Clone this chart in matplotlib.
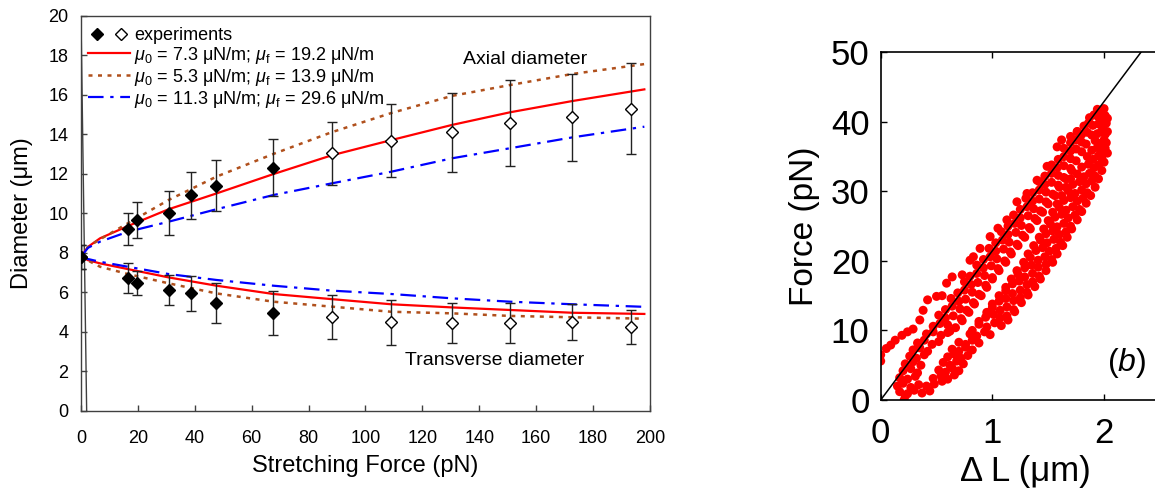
import matplotlib
matplotlib.use("Agg")
import matplotlib.pyplot as plt
from matplotlib.legend_handler import HandlerTuple
from matplotlib.lines import Line2D

plt.rcParams["font.family"] = ["Liberation Sans", "DejaVu Sans"]
plt.rcParams["mathtext.fontset"] = "custom"
plt.rcParams["mathtext.rm"] = "Liberation Sans"
plt.rcParams["mathtext.it"] = "Liberation Sans:italic"

# ---- panel (a): diameter vs stretching force ----
force_filled = [0, 16.5, 19.7, 30.8, 38.7, 47.6, 67.6]
axial_filled = [7.8, 9.2, 9.65, 10.0, 10.9, 11.4, 12.3]
axial_filled_err = [0.6, 0.8, 0.9, 1.1, 1.2, 1.3, 1.45]
trans_filled = [7.8, 6.7, 6.45, 6.1, 5.95, 5.45, 4.95]
trans_filled_err = [0.6, 0.76, 0.6, 0.76, 0.88, 1.0, 1.1]

force_open = [88.1, 109, 130.4, 150.8, 172.7, 193.2]
axial_open = [13.03, 13.66, 14.11, 14.57, 14.85, 15.29]
axial_open_err = [1.6, 1.85, 2.0, 2.2, 2.2, 2.3]
trans_open = [4.73, 4.47, 4.44, 4.44, 4.49, 4.22]
trans_open_err = [1.12, 1.12, 1.03, 1.03, 0.93, 0.86]

model_force = [0, 2.5, 6.7, 16.5, 30.8, 47.6, 67.6, 88.1, 109, 130.4, 150.8, 172.7, 198]
red_axial = [7.8, 8.3, 8.73, 9.35, 10.2, 11.0, 11.98, 12.93, 13.7, 14.47, 15.11, 15.68, 16.27]
red_trans = [7.8, 7.62, 7.46, 7.17, 6.75, 6.33, 5.91, 5.65, 5.39, 5.23, 5.10, 4.96, 4.9]
brown_axial = [7.8, 8.3, 8.68, 9.49, 10.67, 11.85, 13.0, 14.1, 15.07, 15.94, 16.49, 17.05, 17.55]
brown_trans = [7.8, 7.6, 7.29, 6.92, 6.45, 5.94, 5.52, 5.27, 5.01, 4.93, 4.80, 4.73, 4.66]
blue_axial = [7.8, 8.25, 8.56, 9.06, 9.57, 10.2, 10.92, 11.51, 12.1, 12.78, 13.29, 13.84, 14.38]
blue_trans = [7.8, 7.68, 7.54, 7.29, 6.92, 6.62, 6.33, 6.08, 5.91, 5.69, 5.52, 5.39, 5.26]

stray_x = [0, 2.0]
stray_y = [20, 0]

labels = [
    "experiments",
    r"$\mu_0$ = 7.3 μN/m; $\mu_{\rm f}$ = 19.2 μN/m",
    r"$\mu_0$ = 5.3 μN/m; $\mu_{\rm f}$ = 13.9 μN/m",
    r"$\mu_0$ = 11.3 μN/m; $\mu_{\rm f}$ = 29.6 μN/m",
]

# ---- panel (b): force vs extension (hysteresis loop) ----
hyst_points = [
    # low-force region
    (0.21, 0.0), (0.22, 0.6),
    (0.17, 1.2), (0.24, 0.9), (0.30, 1.4), (0.37, 1.0), (0.44, 1.3),
    (0.15, 2.0), (0.20, 2.4), (0.27, 1.8), (0.34, 2.2), (0.41, 2.0), (0.48, 2.3), (0.55, 2.7),
    (0.17, 3.2), (0.24, 3.0), (0.31, 3.4), (0.47, 3.1), (0.54, 3.5), (0.60, 3.0), (0.66, 3.6),
    (0.20, 4.2), (0.27, 4.5), (0.33, 3.9), (0.52, 4.3), (0.58, 4.0), (0.64, 4.6), (0.70, 4.2),
    (0.22, 5.2), (0.29, 5.5), (0.36, 5.0), (0.56, 5.4), (0.62, 5.0), (0.68, 5.6), (0.74, 5.2),
    (0.26, 6.3), (0.32, 6.0), (0.39, 6.5), (0.60, 6.2), (0.66, 6.6), (0.72, 6.0), (0.78, 6.4),
    (0.29, 7.2), (0.35, 7.5), (0.42, 7.0), (0.64, 7.3), (0.70, 7.0), (0.76, 7.6), (0.82, 7.2),
    (0.33, 8.2), (0.39, 8.6), (0.46, 8.0), (0.52, 8.4), (0.70, 8.3), (0.76, 8.0), (0.82, 8.6), (0.88, 8.2),
    (0.41, 9.5), (0.47, 9.8), (0.54, 9.3), (0.60, 9.7), (0.80, 9.5), (0.86, 9.2), (0.93, 9.8), (0.98, 9.4),
    # two branches
    (0.47, 10.6), (0.53, 11.0), (0.60, 10.8), (0.67, 10.4), (0.88, 10.9), (0.95, 10.5), (1.02, 11.1), (1.08, 10.7),
    (0.52, 12.2), (0.58, 11.8), (0.65, 12.1), (0.72, 11.7), (0.94, 11.9), (1.01, 12.3), (1.07, 11.8), (1.13, 12.1),
    (0.58, 13.0), (0.64, 13.5), (0.71, 13.1), (0.77, 12.9), (1.00, 13.3), (1.07, 12.9), (1.13, 13.4), (1.19, 13.0),
    (0.63, 14.6), (0.70, 14.2), (0.76, 14.5), (0.83, 14.0), (1.06, 14.2), (1.12, 14.6), (1.19, 14.3), (1.25, 14.7),
    (0.69, 15.4), (0.75, 15.8), (0.82, 15.5), (0.88, 15.2), (1.12, 15.7), (1.18, 15.3), (1.25, 15.8), (1.31, 15.5),
    (0.75, 17.0), (0.81, 16.6), (0.87, 16.9), (0.94, 16.5), (1.18, 16.7), (1.24, 17.1), (1.31, 16.6), (1.36, 17.0),
    (0.80, 17.8), (0.86, 18.2), (0.93, 17.9), (1.00, 17.6), (1.23, 18.1), (1.29, 17.7), (1.36, 18.2), (1.42, 17.8),
    (0.86, 19.4), (0.92, 19.0), (0.99, 19.3), (1.05, 18.9), (1.29, 19.0), (1.35, 19.4), (1.41, 19.1), (1.48, 19.5),
    (0.92, 20.2), (0.98, 20.6), (1.04, 20.3), (1.11, 20.0), (1.34, 20.5), (1.41, 20.1), (1.47, 20.6), (1.53, 20.2),
    (0.97, 21.8), (1.03, 21.4), (1.10, 21.7), (1.16, 21.3), (1.39, 21.5), (1.45, 21.9), (1.51, 21.4), (1.57, 21.8),
    (1.03, 22.6), (1.09, 23.0), (1.15, 22.7), (1.22, 22.4), (1.43, 23.0), (1.49, 22.6), (1.55, 23.1), (1.61, 22.7),
    (1.08, 24.2), (1.14, 23.8), (1.21, 24.1), (1.27, 23.7), (1.48, 23.9), (1.54, 24.3), (1.60, 23.8), (1.66, 24.2),
    (1.14, 25.0), (1.20, 25.4), (1.26, 25.1), (1.33, 24.8), (1.52, 25.3), (1.58, 24.9), (1.64, 25.4), (1.70, 25.0),
    (1.19, 26.6), (1.25, 26.2), (1.32, 26.5), (1.38, 26.1), (1.56, 26.3), (1.62, 26.7), (1.68, 26.2), (1.74, 26.6),
    (1.25, 27.4), (1.31, 27.8), (1.37, 27.5), (1.43, 27.2), (1.60, 27.7), (1.66, 27.3), (1.72, 27.8), (1.78, 27.4),
    (1.30, 29.0), (1.36, 28.6), (1.42, 28.9), (1.48, 28.5), (1.64, 28.7), (1.70, 29.1), (1.76, 28.6), (1.81, 29.0),
    (1.36, 29.8), (1.42, 30.2), (1.48, 29.9), (1.54, 29.6), (1.68, 30.1), (1.74, 29.7), (1.80, 30.2), (1.85, 29.8),
    (1.42, 31.4), (1.47, 31.0), (1.53, 31.3), (1.59, 30.9), (1.72, 31.0), (1.78, 31.4), (1.84, 31.1), (1.89, 31.5),
    (1.47, 32.2), (1.53, 32.6), (1.59, 32.3), (1.64, 32.0), (1.76, 32.5), (1.82, 32.1), (1.87, 32.6), (1.92, 32.2),
    (1.53, 33.8), (1.58, 33.4), (1.64, 33.7), (1.70, 33.3), (1.80, 33.5), (1.86, 33.9), (1.91, 33.4), (1.95, 33.8),
    (1.59, 34.6), (1.64, 35.0), (1.70, 34.7), (1.75, 34.4), (1.85, 35.0), (1.90, 34.6), (1.95, 35.1), (1.98, 34.7),
    (1.64, 36.2), (1.70, 35.8), (1.75, 36.1), (1.80, 35.7), (1.89, 35.9), (1.94, 36.3), (1.98, 35.8), (2.01, 36.2),
    (1.70, 37.0), (1.75, 37.4), (1.80, 37.1), (1.84, 36.8), (1.92, 37.3), (1.96, 36.9), (2.00, 37.4), (2.02, 37.0),
    (1.76, 38.6), (1.80, 38.2), (1.85, 38.5), (1.89, 38.1), (1.94, 38.3), (1.98, 38.7), (2.01, 38.2), (2.03, 38.6),
    (1.82, 39.4), (1.86, 39.8), (1.90, 39.5), (1.95, 39.7), (1.99, 39.3), (2.02, 39.8),
    (1.87, 40.6), (1.91, 41.0), (1.95, 40.7), (1.98, 40.4), (2.01, 40.9), (2.03, 40.5),
    (1.94, 41.8), (1.98, 41.4), (2.00, 41.9),
    # sparse outer points (upper-left of the loop)
    (0.00, 6.5), (0.00, 5.6), (0.05, 7.4), (0.09, 7.9), (0.13, 8.6), (0.19, 9.3), (0.24, 9.8),
    (0.29, 10.2), (0.35, 11.5), (0.38, 12.9), (0.42, 14.4), (0.50, 14.9), (0.55, 15.0), (0.59, 16.8),
    (0.64, 17.7), (0.73, 18.0), (0.80, 20.1), (0.83, 20.6), (0.89, 21.8), (0.98, 23.5), (1.05, 24.7),
    (1.13, 25.9), (1.22, 28.5), (1.31, 29.7), (1.40, 31.6), (1.49, 33.6), (1.58, 36.4), (1.62, 37.4),
    (1.70, 37.9), (1.76, 38.6),
]
hyst_edge_points = [
    # outer edge of the lower branch
    (1.14, 11.5), (1.20, 12.7), (1.26, 14.0), (1.32, 15.1), (1.38, 16.3), (1.43, 17.4), (1.48, 18.6),
    (1.54, 19.8), (1.58, 21.0), (1.63, 22.2), (1.67, 23.4), (1.71, 24.6), (1.76, 25.9), (1.80, 27.1),
    (1.84, 28.3), (1.88, 29.4), (1.92, 30.6), (1.95, 31.8), (1.98, 33.0), (2.00, 34.2), (2.03, 35.5),
    # inner edge of the lower branch
    (0.82, 10.0), (0.88, 11.3), (0.95, 12.6), (1.00, 13.8), (1.06, 15.0), (1.12, 16.2), (1.17, 17.4),
    (1.22, 18.6), (1.28, 19.8), (1.32, 21.0), (1.37, 22.2), (1.42, 23.4), (1.46, 24.6), (1.50, 25.8),
    (1.54, 27.0), (1.58, 28.2), (1.62, 29.4), (1.66, 30.6), (1.70, 31.8),
    # right edge of the upper branch
    (0.62, 9.9), (0.73, 11.4), (0.79, 12.6), (0.84, 13.8), (0.90, 15.0), (0.95, 16.2), (1.00, 17.4),
    (1.06, 18.6), (1.12, 19.8), (1.17, 21.0), (1.23, 22.2), (1.29, 23.4), (1.34, 24.6), (1.40, 25.8),
    (1.45, 27.0), (1.50, 28.2), (1.56, 29.4), (1.60, 30.6), (1.66, 31.8), (1.71, 33.0),
]
fit_dl = [0, 2.33]
fit_force = [0, 50]

fig = plt.figure(figsize=(11.55, 4.94), dpi=100)

# ---------------- left panel ----------------
ax = fig.add_axes([0.0701, 0.1686, 0.4927, 0.7996])
spine_col = "#404040"
ax.plot(stray_x, stray_y, color=spine_col, lw=1.0, zorder=1)

l_red, = ax.plot(model_force, red_axial, color="#ff0000", lw=1.6, zorder=2)
ax.plot(model_force, red_trans, color="#ff0000", lw=1.6, zorder=2)
l_brown, = ax.plot(model_force, brown_axial, color="#b0501c", lw=1.8, ls=(0, (1.6, 2.2)), zorder=2)
ax.plot(model_force, brown_trans, color="#b0501c", lw=1.8, ls=(0, (1.6, 2.2)), zorder=2)
l_blue, = ax.plot(model_force, blue_axial, color="#0000ff", lw=1.6, ls=(0, (7, 3, 1.5, 3)), zorder=2)
ax.plot(model_force, blue_trans, color="#0000ff", lw=1.6, ls=(0, (7, 3, 1.5, 3)), zorder=2)

eb_kw = dict(ls="none", marker="D", ms=6, ecolor="#222222", elinewidth=1.0,
             capsize=3.5, capthick=1.0, zorder=3)
ax.errorbar(force_filled, axial_filled, yerr=axial_filled_err, mfc="black", mec="black", **eb_kw)
ax.errorbar(force_filled, trans_filled, yerr=trans_filled_err, mfc="black", mec="black", **eb_kw)
ax.errorbar(force_open, axial_open, yerr=axial_open_err, mfc="white", mec="black", mew=1.0, **eb_kw)
ax.errorbar(force_open, trans_open, yerr=trans_open_err, mfc="white", mec="black", mew=1.0, **eb_kw)

ax.set_xlim(0, 200)
ax.set_ylim(0, 20)
ax.set_xticks(range(0, 201, 20))
ax.set_yticks(range(0, 21, 2))
ax.tick_params(direction="in", length=4, width=1, color=spine_col, labelsize=13)
ax.tick_params(axis="x", pad=14)
ax.tick_params(axis="y", pad=9)
for s in ax.spines.values():
    s.set_color(spine_col)
    s.set_linewidth(1.0)
ax.set_xlabel("Stretching Force (pN)", fontsize=17, labelpad=6)
ax.set_ylabel("Diameter (μm)", fontsize=17, labelpad=11)

ax.text(156, 17.8, "Axial diameter", fontsize=14, ha="center", va="center")
ax.text(145.5, 2.55, "Transverse diameter", fontsize=14, ha="center", va="center")

h_fill = Line2D([], [], ls="none", marker="D", ms=6, mfc="black", mec="black")
h_open = Line2D([], [], ls="none", marker="D", ms=6, mfc="white", mec="black")
ax.legend([(h_fill, h_open), l_red, l_brown, l_blue], labels,
          handler_map={tuple: HandlerTuple(ndivide=None, pad=0.4)},
          loc="upper left", bbox_to_anchor=(0.0, 0.99), borderaxespad=0.2,
          frameon=False, fontsize=13, handlelength=2.3, handletextpad=0.25,
          labelspacing=0.05, borderpad=0.2)

# ---------------- right panel ----------------
bx = fig.add_axes([0.7625, 0.1903, 0.2514, 0.7038])
all_pts = hyst_points + hyst_edge_points
hx = [p[0] for p in all_pts]
hy = [p[1] for p in all_pts]
bx.scatter(hx, hy, s=42, color="#ff0000", edgecolors="none", zorder=2)
bx.plot(fit_dl, fit_force, color="black", lw=1.1, zorder=3)
bx.set_xlim(0, 2.6)
bx.set_ylim(0, 50)
bx.set_xticks([0, 1, 2])
bx.set_yticks(range(0, 51, 10))
bx.tick_params(direction="in", length=4, width=1, labelsize=25, top=True, right=True)
bx.tick_params(axis="x", pad=12)
bx.tick_params(axis="y", pad=8)
for s in bx.spines.values():
    s.set_color("black")
    s.set_linewidth(1.2)
bx.set_xlabel("Δ L (μm)", fontsize=25, labelpad=4)
bx.set_ylabel("Force (pN)", fontsize=24, labelpad=8)
bx.text(2.2, 5.3, r"($\it{b}$)", fontsize=23, ha="center", va="center")

fig.savefig("out.png", dpi=100)
